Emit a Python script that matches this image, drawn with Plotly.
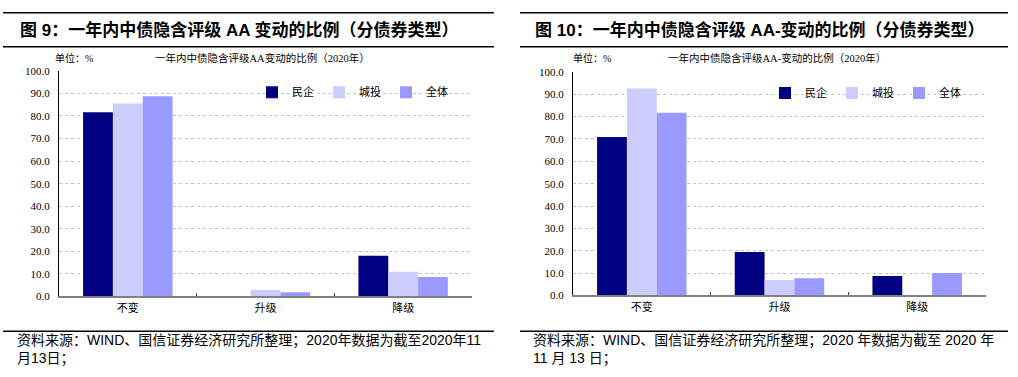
import plotly.graph_objects as go

categories = ["不变", "升级", "降级"]
series_names = ["民企", "城投", "全体"]
colors = ["#000080", "#CCCCFF", "#9999FF"]

# 图9: AA
aa_minqi = [81.7, 0.0, 18.0]
aa_chengtou = [85.5, 2.9, 10.9]
aa_quanti = [88.8, 1.9, 8.6]

# 图10: AA-
aam_minqi = [70.9, 19.5, 8.7]
aam_chengtou = [92.6, 6.9, 0.0]
aam_quanti = [81.7, 7.7, 10.0]

y_ticks = [0, 10, 20, 30, 40, 50, 60, 70, 80, 90, 100]
y_ticktext = [f"{v:.1f}" for v in y_ticks]

W, H = 1018, 377
CJK = "Liberation Serif, Noto Sans CJK SC"
SANS = "Liberation Sans, Noto Sans CJK SC"

def px_x(x):
    return x / W

def px_y(y):
    return 1 - y / H

fig = go.Figure()

left_data = [aa_minqi, aa_chengtou, aa_quanti]
right_data = [aam_minqi, aam_chengtou, aam_quanti]

for name, col, vals in zip(series_names, colors, left_data):
    fig.add_trace(go.Bar(x=categories, y=vals, name=name, marker_color=col,
                         marker_line_width=0, xaxis="x", yaxis="y", legend="legend"))
for name, col, vals in zip(series_names, colors, right_data):
    fig.add_trace(go.Bar(x=categories, y=vals, name=name, marker_color=col,
                         marker_line_width=0, xaxis="x2", yaxis="y2", legend="legend2"))

xaxis_common = dict(type="category", showgrid=False, tickson="boundaries", ticks="inside",
                    ticklen=3, tickcolor="#404040", showline=True, linecolor="#808080",
                    linewidth=2, tickfont=dict(family=CJK, size=11, color="#000"),
                    fixedrange=True)
yaxis_common = dict(range=[0, 100], tickvals=y_ticks, ticktext=y_ticktext,
                    showgrid=True, gridcolor="#C4C4C4", griddash="dot", gridwidth=1,
                    showline=True, linecolor="#000", linewidth=1, ticks="",
                    tickfont=dict(family=CJK, size=11, color="#000"), zeroline=False,
                    ticklabelstandoff=6, fixedrange=True)

fig.update_layout(
    width=W, height=H,
    margin=dict(l=0, r=0, t=0, b=0),
    paper_bgcolor="white", plot_bgcolor="white",
    barmode="group", bargap=0.35, bargroupgap=0,
    xaxis=dict(domain=[px_x(59), px_x(472)], anchor="y", **xaxis_common),
    yaxis=dict(domain=[px_y(300), px_y(67)], anchor="x", **yaxis_common),
    xaxis2=dict(domain=[px_x(573), px_x(986)], anchor="y2", **xaxis_common),
    yaxis2=dict(domain=[px_y(299), px_y(68)], anchor="x2", **yaxis_common),
    legend=dict(orientation="h", x=px_x(252), y=px_y(74), xanchor="left", yanchor="top",
                bgcolor="rgba(0,0,0,0)", font=dict(family=CJK, size=11, color="#000"),
                entrywidth=22, itemwidth=30),
    legend2=dict(orientation="h", x=px_x(765), y=px_y(75), xanchor="left", yanchor="top",
                 bgcolor="rgba(0,0,0,0)", font=dict(family=CJK, size=11, color="#000"),
                 entrywidth=22, itemwidth=30),
    showlegend=True,
)

# header / footer rules
shapes = []
for (x0, x1) in [(3, 494), (520, 1008)]:
    for y in [7, 42, 336]:
        shapes.append(dict(type="line", xref="paper", yref="paper",
                           x0=px_x(x0), x1=px_x(x1), y0=px_y(y), y1=px_y(y),
                           line=dict(color="#000", width=1.5)))
fig.update_layout(shapes=shapes)

ann = []
def text(x, y, s, size, family, bold=False, xanchor="left"):
    ann.append(dict(x=px_x(x), y=px_y(y), xref="paper", yref="paper", text=(f"<b>{s}</b>" if bold else s),
                    showarrow=False, xanchor=xanchor, yanchor="middle",
                    font=dict(family=family, size=size, color="#000")))

text(18, 25, "图 9：一年内中债隐含评级 AA 变动的比例（分债券类型）", 17, SANS, bold=True)
text(533, 25, "图 10：一年内中债隐含评级 AA-变动的比例（分债券类型）", 17, SANS, bold=True)
text(53, 54, "单位：%", 10, CJK)
text(571, 54, "单位：%", 10, CJK)
text(262, 54, "一年内中债隐含评级AA变动的比例（2020年）", 10.5, CJK, xanchor="center")
text(777, 54, "一年内中债隐含评级AA-变动的比例（2020年）", 10.5, CJK, xanchor="center")
text(15, 346, "资料来源：WIND、国信证券经济研究所整理；2020年数据为截至2020年11", 14, SANS)
text(15, 364, "月13日；", 14, SANS)
text(531, 346, "资料来源：WIND、国信证券经济研究所整理；2020 年数据为截至 2020 年", 14, SANS)
text(531, 364, "11 月 13 日；", 14, SANS)
fig.update_layout(annotations=ann)

fig.write_html("out.html", config={"displayModeBar": False},
               post_script="document.body.style.margin='0px';document.body.style.overflow='hidden';")
